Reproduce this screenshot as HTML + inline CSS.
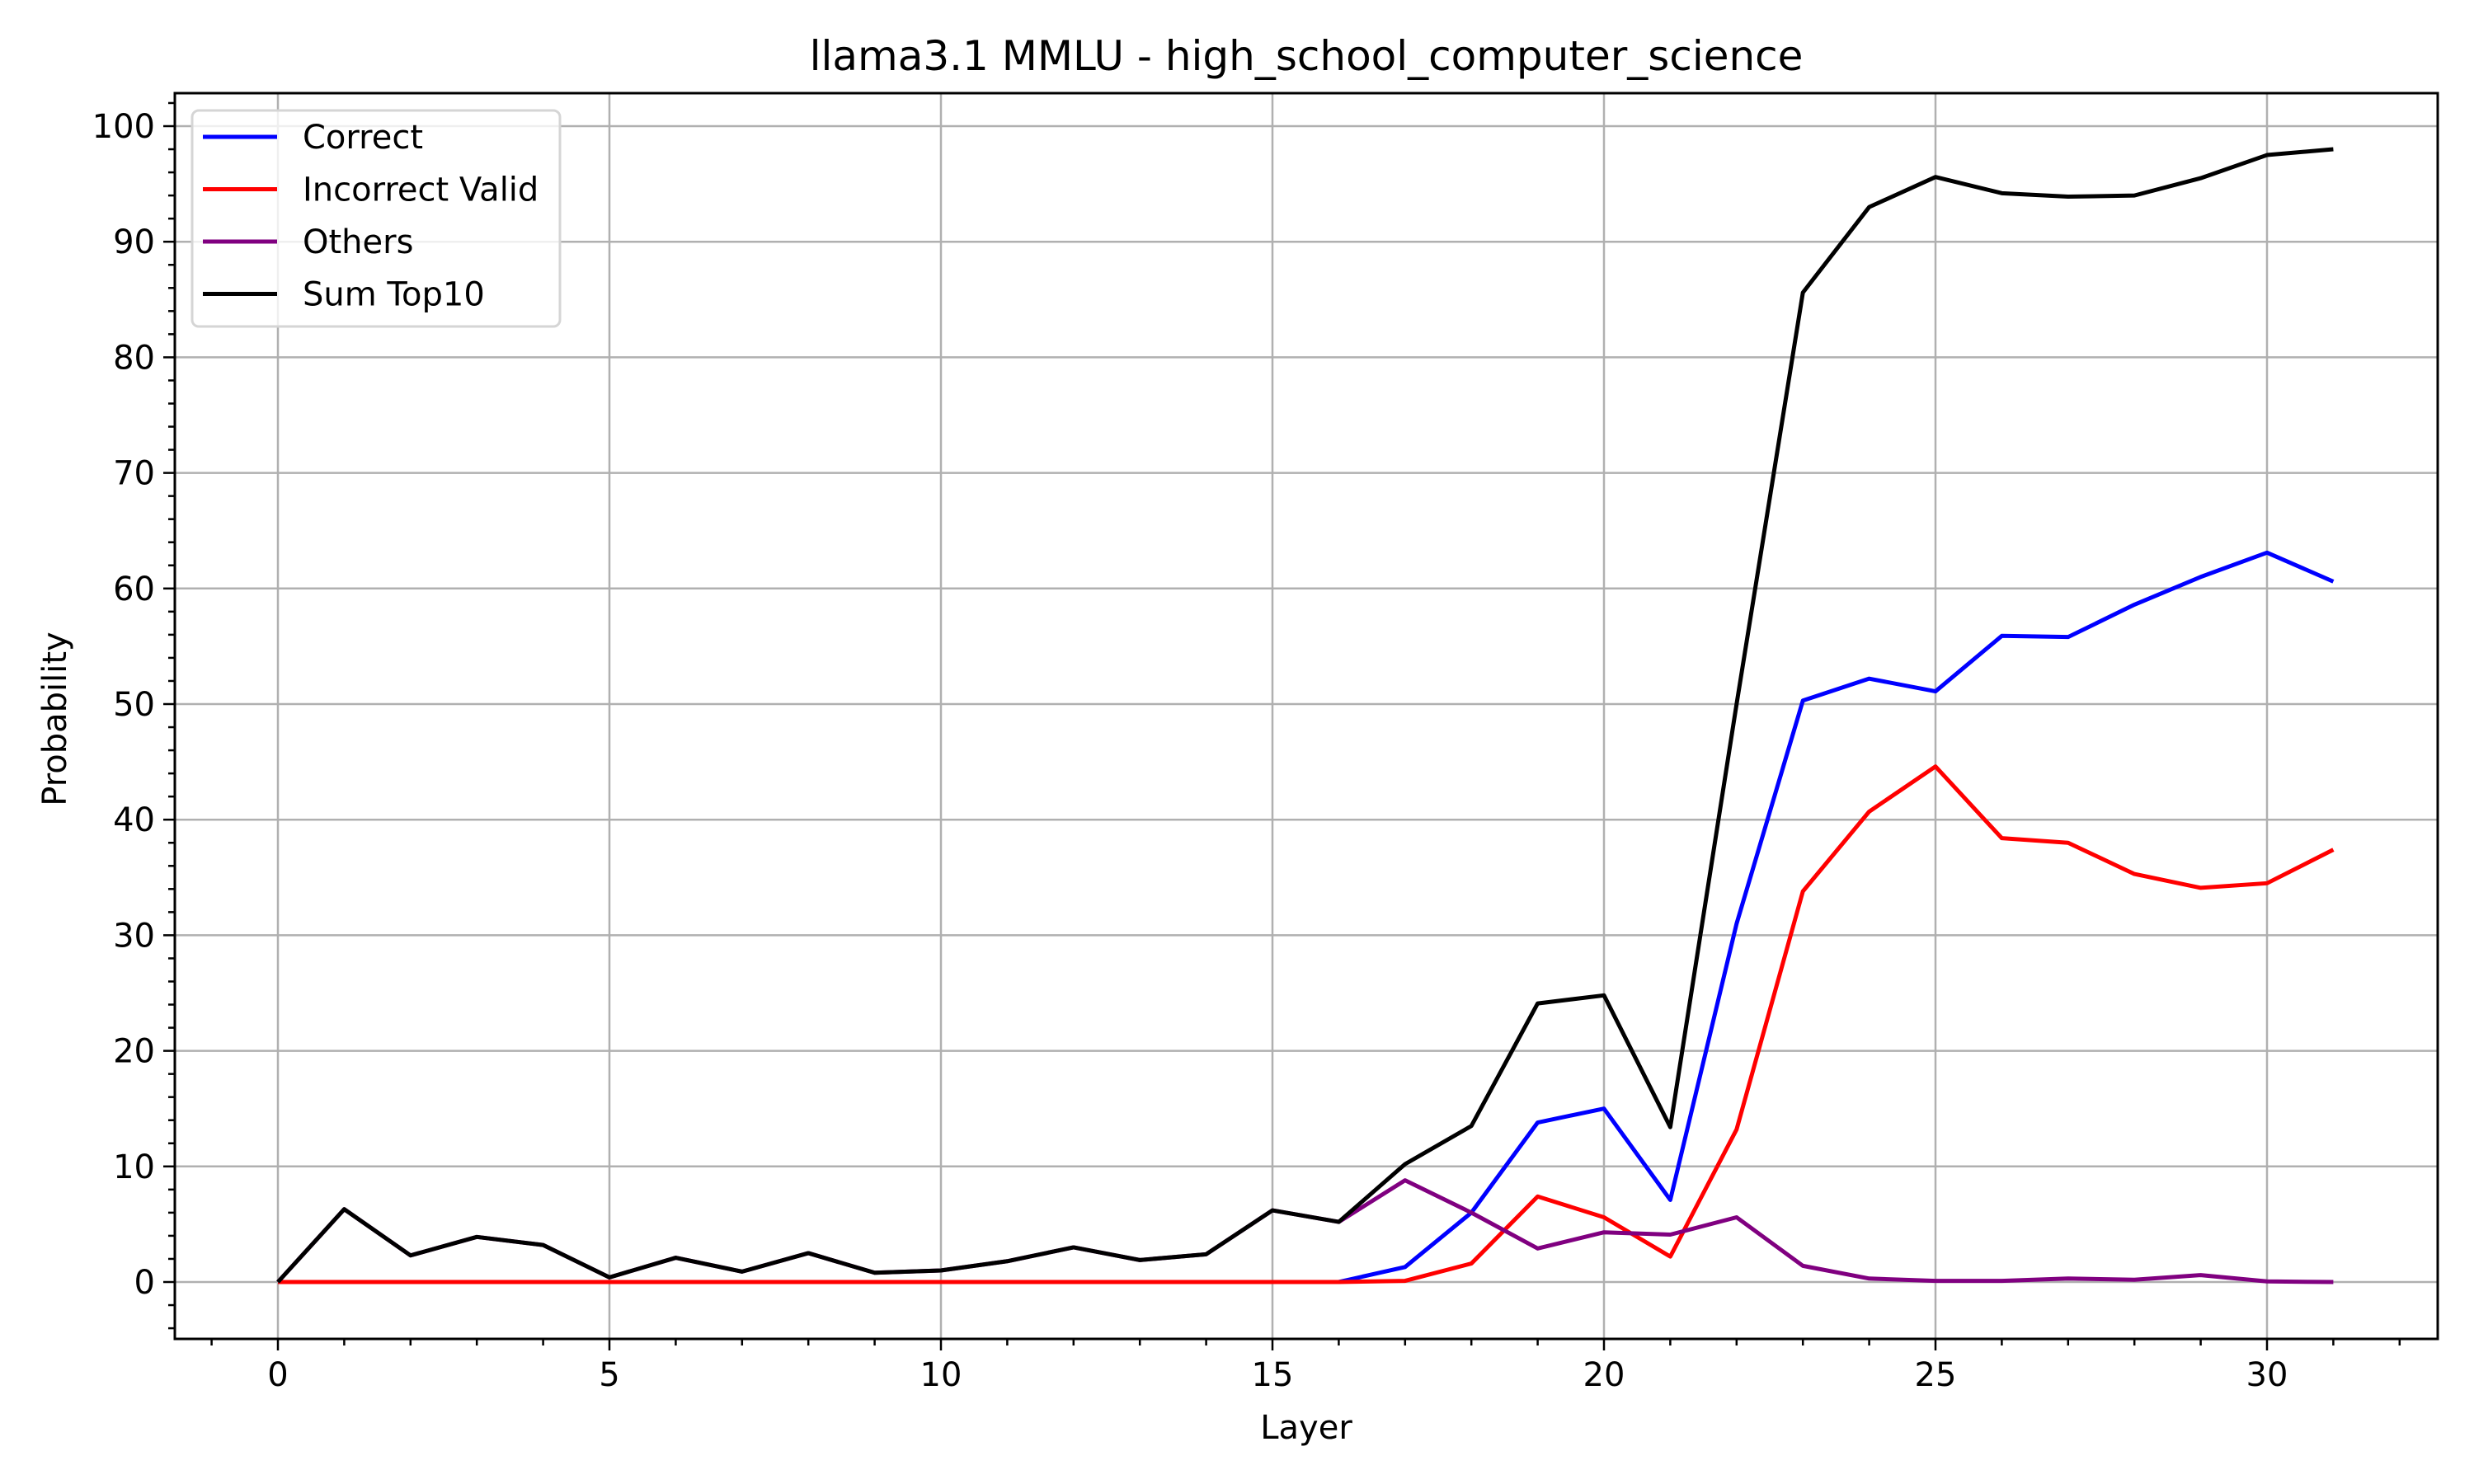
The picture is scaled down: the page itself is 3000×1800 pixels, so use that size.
<!DOCTYPE html>
<html><head><meta charset="utf-8"><style>body{margin:0;background:#fff}svg{display:block;font-family:"DejaVu Sans","Liberation Sans",sans-serif}</style></head>
<body>
<svg id="chart" width="3000" height="1800" xmlns="http://www.w3.org/2000/svg"></svg>
<script>
const layers = Array.from({length:32},(_,i)=>i);
const correct = [0,0,0,0,0,0,0,0,0,0,0,0,0,0,0,0,0,1.3,6.0,13.8,15.0,7.1,31,50.3,52.2,51.1,55.9,55.8,58.6,61,63.1,60.6];
const incorrectValid = [0,0,0,0,0,0,0,0,0,0,0,0,0,0,0,0,0,0.1,1.6,7.4,5.6,2.2,13.2,33.8,40.7,44.6,38.4,38,35.3,34.1,34.5,37.4];
const others = [0,6.3,2.3,3.9,3.2,0.4,2.1,0.9,2.5,0.8,1.0,1.8,3.0,1.9,2.4,6.2,5.2,8.8,6.0,2.9,4.3,4.1,5.6,1.4,0.3,0.1,0.1,0.3,0.2,0.6,0.05,0];
const sumTop10 = [0,6.3,2.3,3.9,3.2,0.4,2.1,0.9,2.5,0.8,1.0,1.8,3.0,1.9,2.4,6.2,5.2,10.2,13.5,24.1,24.8,13.4,50,85.6,93,95.6,94.2,93.9,94,95.5,97.5,98];
const xTicks = [0,5,10,15,20,25,30];
const yTicks = [0,10,20,30,40,50,60,70,80,90,100];
const seriesNames = ["Correct","Incorrect Valid","Others","Sum Top10"];
const seriesColors = ["#0000ff","#ff0000","#800080","#000000"];

const L=212,R=2956,T=113,B=1624;
const X=v=>337+v*80.4;
const Y=v=>1555-v*14.02;
const svg=document.getElementById('chart');
const NS='http://www.w3.org/2000/svg';
function mk(tag,attrs,parent){const e=document.createElementNS(NS,tag);for(const k in attrs)e.setAttribute(k,attrs[k]);(parent||svg).appendChild(e);return e;}

let t=mk('text',{x:1584,y:85,'font-size':50,'text-anchor':'middle'});t.textContent='llama3.1 MMLU - high_school_computer_science';



const grid=mk('g',{stroke:'#b0b0b0','stroke-width':2.5});


xTicks.forEach(v=>mk('line',{x1:X(v),x2:X(v),y1:T,y2:B},grid));
yTicks.forEach(v=>mk('line',{x1:L,x2:R,y1:Y(v),y2:Y(v)},grid));

const ticks=mk('g',{stroke:'#000','stroke-width':2.5});


for(let v=-1;v<=32;v++){const x=X(v);if(x<L||x>R)continue;mk('line',{x1:x,x2:x,y1:B,y2:B+(v%5===0?14:8)},ticks);}
for(let v=-4;v<=104;v+=2){const y=Y(v);if(y<T||y>B)continue;mk('line',{x1:L,x2:L-(v%10===0?14:8),y1:y,y2:y},ticks);}
xTicks.forEach(v=>{const e=mk('text',{x:X(v),y:B+57,'font-size':40,'text-anchor':'middle'});e.textContent=v;

});
yTicks.forEach(v=>{const e=mk('text',{x:L-24,y:Y(v)+14,'font-size':40,'text-anchor':'end'});e.textContent=v;

});

const xl=mk('text',{x:1584,y:1745,'font-size':40,'text-anchor':'middle'});xl.textContent='Layer';


const yl=mk('text',{x:0,y:0,'font-size':40,'text-anchor':'middle',transform:'translate(80,872) rotate(-90)'});yl.textContent='Probability';



const clip=mk('clipPath',{id:'pc'});mk('rect',{x:L,y:T,width:R-L,height:B-T},clip);
[correct,incorrectValid,others,sumTop10].forEach((s,i)=>{
 const p=mk('polyline',{points:s.map((v,j)=>X(layers[j])+','+Y(v)).join(' '),fill:'none',stroke:seriesColors[i],'stroke-width':5,'stroke-linejoin':'round','clip-path':'url(#pc)'});
 
 
});

const frame=mk('rect',{x:L,y:T,width:R-L,height:B-T,fill:'none',stroke:'#000','stroke-width':3});



const lg=mk('g',{});


mk('rect',{x:233,y:134,width:446,height:262,rx:8,fill:'rgba(255,255,255,0.8)',stroke:'#d5d5d5','stroke-width':3},lg);
seriesNames.forEach((n,i)=>{const y=166+i*63.5;
 const en=mk('g',{},lg);
 
 
 mk('line',{x1:246,x2:336,y1:y,y2:y,stroke:seriesColors[i],'stroke-width':5},en);
 const tx=mk('text',{x:367,y:y+14,'font-size':40},en);tx.textContent=n;});
</script>
</body></html>
